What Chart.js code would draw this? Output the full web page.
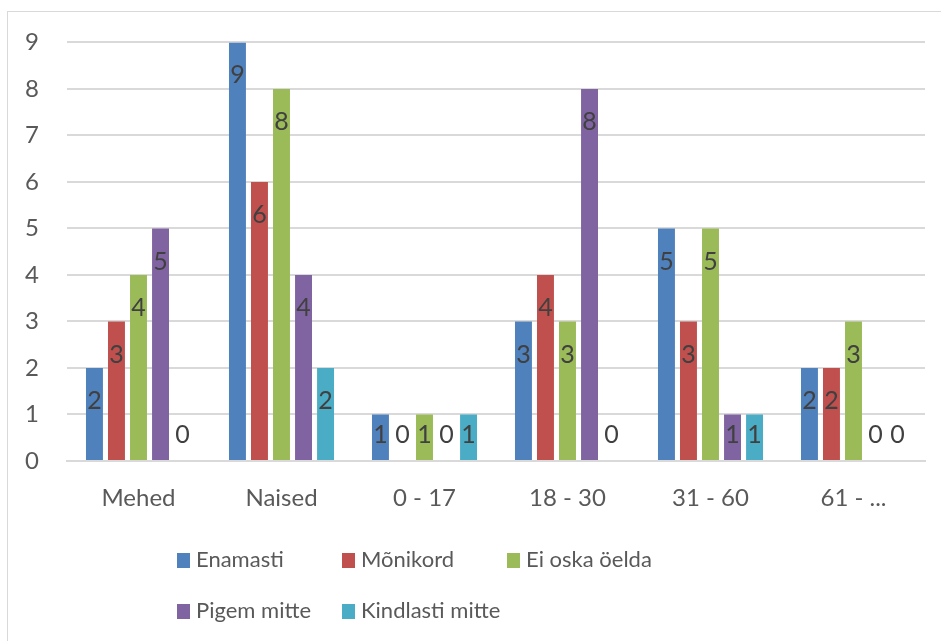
<!DOCTYPE html>
<html>
<head>
<meta charset="utf-8">
<script src="https://cdn.jsdelivr.net/npm/chart.js@4/dist/chart.umd.min.js"></script>
<style>
  html, body { margin: 0; padding: 0; background: #fff; }
  #wrap { position: relative; width: 941px; height: 641px; overflow: hidden; }
  #frame { position: absolute; left: 7px; top: 11px; width: 1000px; height: 700px; border: 1px solid #d9d9d9; box-sizing: border-box; }
  canvas { position: absolute; left: 0; top: 0; }
  #legend { position: absolute; left: 177px; top: 544px; font-family: Lato, sans-serif; font-size: 22px; color: #595959; }
  .item { position: absolute; white-space: nowrap; line-height: 30px; }
  .box { display: inline-block; width: 13px; height: 15px; margin-right: 6px; vertical-align: -1px; }
</style>
</head>
<body>
<div id="wrap">
  <div id="frame"></div>
  <canvas id="chart" width="941" height="641"></canvas>
  <div id="legend"></div>
</div>
<script>
// kategooriad ja seeriad
const categories = ["Mehed", "Naised", "0 - 17", "18 - 30", "31 - 60", "61 - ..."]
const seriesNames = ["Enamasti", "Mõnikord", "Ei oska öelda", "Pigem mitte", "Kindlasti mitte"]
const enamasti = [2, 9, 1, 3, 5, 2]
const monikord = [3, 6, 0, 4, 3, 2]
const eiOska = [4, 8, 1, 3, 5, 3]
const pigemMitte = [5, 4, 0, 8, 1, 0]
const kindlastiMitte = [0, 2, 1, 0, 1, 0]
const yTicks = [0, 1, 2, 3, 4, 5, 6, 7, 8, 9]
const colors = ["#4F81BD", "#C0504D", "#9BBB59", "#8064A2", "#4BACC6"]

const seriesValues = [enamasti, monikord, eiOska, pigemMitte, kindlastiMitte]
const FONT = "Lato, sans-serif"

// väärtused tulpade sisse
const barLabels = {
  id: "barLabels",
  afterDatasetsDraw(chart) {
    const ctx = chart.ctx
    const base = chart.scales.y.getPixelForValue(0)
    ctx.save()
    ctx.font = "25px " + FONT
    ctx.fillStyle = "#404040"
    ctx.textAlign = "center"
    ctx.textBaseline = "middle"
    chart.data.datasets.forEach((ds, i) => {
      chart.getDatasetMeta(i).data.forEach((bar, j) => {
        const y = Math.min(bar.y + 33, base - 26)
        ctx.fillText(String(ds.data[j]), bar.x, y)
      })
    })
    ctx.restore()
  }
}

new Chart(document.getElementById("chart"), {
  type: "bar",
  data: {
    labels: categories,
    datasets: seriesNames.map((name, i) => ({
      label: name,
      data: seriesValues[i],
      backgroundColor: colors[i],
      borderWidth: 0,
      categoryPercentage: 0.77,
      barPercentage: 0.77
    }))
  },
  options: {
    responsive: false,
    animation: false,
    layout: { padding: { top: 42, right: 16, bottom: 0, left: 0 } },
    plugins: {
      legend: { display: false },
      tooltip: { enabled: false }
    },
    scales: {
      x: {
        grid: { display: false, drawTicks: false },
        border: { color: "#d9d9d9", width: 2 },
        ticks: { color: "#595959", font: { family: FONT, size: 24 }, padding: 23 },
        afterFit(scale) { scale.height = 180 }
      },
      y: {
        min: 0,
        max: 9,
        afterBuildTicks(scale) { scale.ticks = yTicks.map(v => ({ value: v })) },
        grid: { color: "#d9d9d9", lineWidth: 2, drawTicks: false },
        border: { display: false },
        ticks: { color: "#595959", font: { family: FONT, size: 24 }, padding: 28 },
        afterFit(scale) { scale.width = 67 }
      }
    }
  },
  plugins: [barLabels]
})

// legend kahes reas, 3 veergu
const legend = document.getElementById("legend")
seriesNames.forEach((name, i) => {
  const item = document.createElement("div")
  item.className = "item"
  item.style.left = (i % 3) * 165 + "px"
  item.style.top = Math.floor(i / 3) * 51 + "px"
  item.innerHTML = `<span class="box" style="background:${colors[i]}"></span>${name}`
  legend.appendChild(item)
})
</script>
</body>
</html>
